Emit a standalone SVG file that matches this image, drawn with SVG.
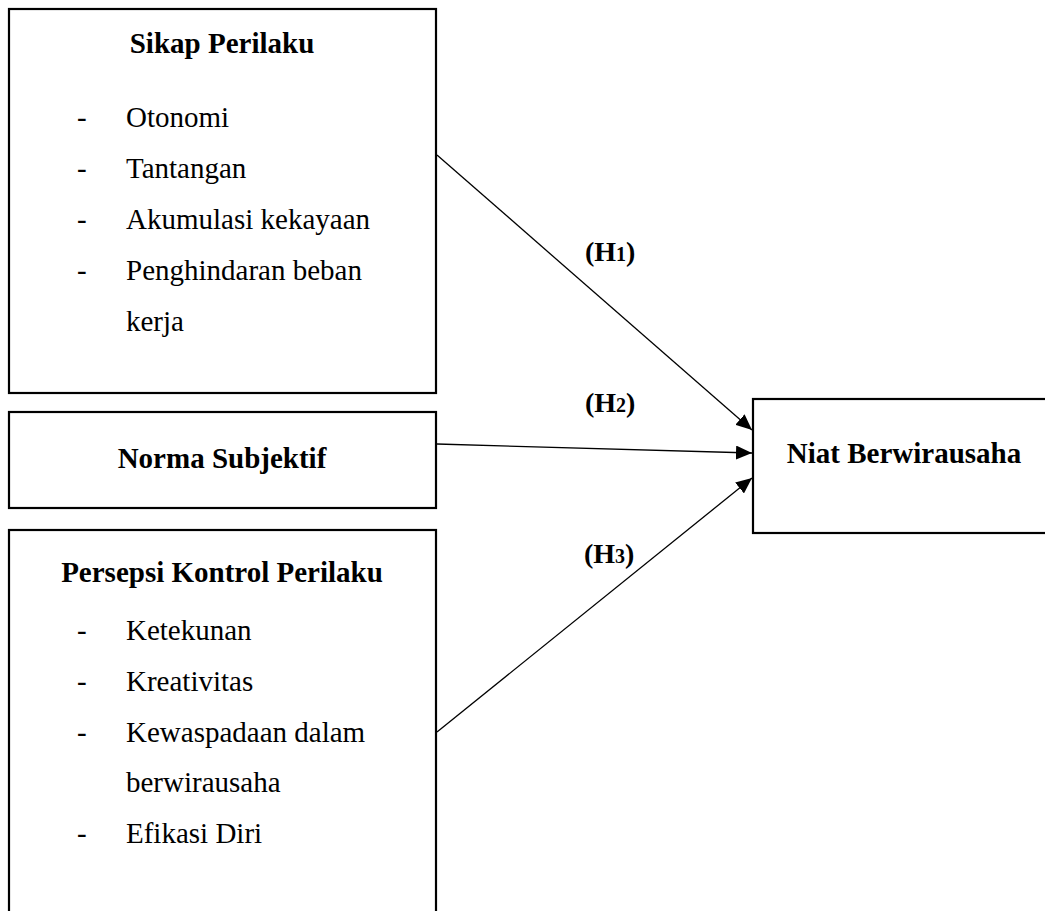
<svg xmlns="http://www.w3.org/2000/svg" width="1045" height="911" viewBox="0 0 1045 911">
<style>
.box{fill:#fff;stroke:#000;stroke-width:2.2}
.t{font-family:"Liberation Serif","Times New Roman",serif;font-size:29px;fill:#000}
.b{font-weight:bold}
.c{text-anchor:middle}
.h{font-family:"Liberation Serif","Times New Roman",serif;font-size:28px;font-weight:bold;fill:#000}
.conn{stroke:#000;stroke-width:1.3;fill:none;marker-end:url(#arr)}
</style>
<defs>
<marker id="arr" markerUnits="userSpaceOnUse" markerWidth="18" markerHeight="14" viewBox="0 0 18 14" refX="16" refY="7" orient="auto">
<path d="M0,0 L16,7 L0,14 Z" fill="#000"/>
</marker>
</defs>
<rect width="1045" height="911" fill="#fff"/>
<g id="node-sikap">
<rect class="box" x="9" y="9" width="427" height="384"/>
<text class="t b c" x="222" y="53">Sikap Perilaku</text>
<text class="t" x="77" y="127">-</text><text class="t" x="126" y="127">Otonomi</text>
<text class="t" x="77" y="178">-</text><text class="t" x="126" y="178">Tantangan</text>
<text class="t" x="77" y="229">-</text><text class="t" x="126" y="229">Akumulasi kekayaan</text>
<text class="t" x="77" y="280">-</text><text class="t" x="126" y="280">Penghindaran beban</text>
<text class="t" x="126" y="331">kerja</text>
</g>
<g id="node-norma">
<rect class="box" x="9" y="412" width="427" height="96"/>
<text class="t b c" x="222" y="468">Norma Subjektif</text>
</g>
<g id="node-persepsi">
<rect class="box" x="9" y="530" width="427" height="400"/>
<text class="t b c" x="222" y="582">Persepsi Kontrol Perilaku</text>
<text class="t" x="77" y="640">-</text><text class="t" x="126" y="640">Ketekunan</text>
<text class="t" x="77" y="691">-</text><text class="t" x="126" y="691">Kreativitas</text>
<text class="t" x="77" y="742">-</text><text class="t" x="126" y="742">Kewaspadaan dalam</text>
<text class="t" x="126" y="792">berwirausaha</text>
<text class="t" x="77" y="843">-</text><text class="t" x="126" y="843">Efikasi Diri</text>
</g>
<g id="node-niat">
<rect class="box" x="753" y="399" width="310" height="134"/>
<text class="t b c" x="904" y="463">Niat Berwirausaha</text>
</g>
<g id="connectors">
<line class="conn" x1="437" y1="155" x2="752" y2="430"/>
<line class="conn" x1="437" y1="444" x2="752" y2="453"/>
<line class="conn" x1="437" y1="732" x2="752" y2="478"/>
</g>
<g id="labels">
<text class="h" x="585" y="261">(H<tspan font-size="20">1</tspan>)</text>
<text class="h" x="585" y="412">(H<tspan font-size="20">2</tspan>)</text>
<text class="h" x="584" y="563">(H<tspan font-size="20">3</tspan>)</text>
</g>
</svg>
